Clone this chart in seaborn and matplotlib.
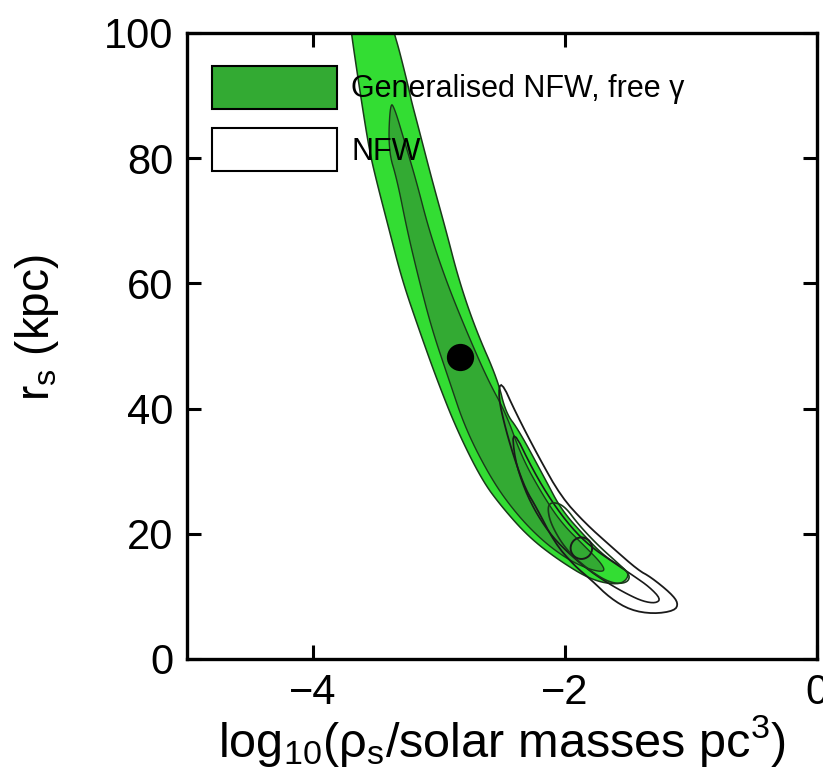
import numpy as np
import pandas as pd
import matplotlib
matplotlib.use("Agg")
import matplotlib.pyplot as plt
from matplotlib.patches import Patch
import seaborn as sns

# ---- data (log10 rho_s, r_s) ----
gnfw95_x = [-3.70, -3.696, -3.617, -3.553, -3.498, -3.395, -3.292, -3.158, -3.016, -2.858,
            -2.660, -2.502, -2.289, -2.051, -1.791, -1.577, -1.498,
            -1.506, -1.680, -1.838, -2.028, -2.154, -2.368, -2.470, -2.534, -2.708, -2.842,
            -2.945, -3.055, -3.158, -3.221, -3.237, -3.316, -3.356, -3.37]
gnfw95_y = [101.5, 100.0, 89.3, 81.3, 76.5, 68.5, 60.5, 52.6, 44.6, 36.6,
            28.6, 24.3, 19.5, 15.8, 12.6, 11.8, 12.9,
            14.2, 16.3, 19.5, 23.8, 28.6, 36.6, 39.3, 44.6, 52.6, 60.5,
            68.5, 76.5, 84.5, 89.3, 90.9, 97.3, 100.0, 101.5]

gnfw68_x = [-3.387, -3.403, -3.332, -3.253, -3.158, -3.055, -2.921, -2.787, -2.581, -2.391, -2.186,
            -1.972, -1.791, -1.680, -1.711, -1.838, -2.028, -2.186, -2.344, -2.470, -2.613,
            -2.787, -2.945, -3.079, -3.182, -3.277, -3.348]
gnfw68_y = [89.1, 81.3, 76.5, 68.5, 60.5, 52.6, 44.6, 36.6, 28.6, 23.3, 19.0,
            15.8, 14.2, 13.9, 15.3, 17.9, 21.7, 26.5, 32.3, 39.3, 44.6,
            52.6, 60.5, 68.5, 76.5, 82.9, 87.7]

nfw95_x = [-2.51, -2.39, -2.21, -2.03, -1.84, -1.63, -1.42, -1.32, -1.16, -1.10, -1.13, -1.30,
           -1.48, -1.64, -1.79, -1.93, -2.08, -2.23, -2.31, -2.39, -2.47, -2.53]
nfw95_y = [44.6, 39.3, 32.3, 25.9, 21.7, 17.9, 14.2, 13.1, 10.5, 8.9, 7.7, 7.2,
           7.8, 9.7, 12.6, 15.0, 18.5, 24.3, 27.0, 31.3, 36.6, 41.9]

nfw68_x = [-2.42, -2.25, -2.10, -1.95, -1.80, -1.62, -1.45, -1.33, -1.24, -1.28, -1.38, -1.50,
           -1.65, -1.80, -1.95, -2.10, -2.22, -2.32, -2.40]
nfw68_y = [37.0, 30.0, 25.0, 21.0, 18.0, 15.5, 13.2, 11.5, 9.6, 8.9, 9.2, 10.3,
           12.0, 14.0, 16.5, 19.5, 23.0, 27.0, 32.0]

core_x = [-2.11, -2.01, -1.89, -1.74, -1.58, -1.48, -1.51, -1.64, -1.81, -1.99, -2.11, -2.14]
core_y = [25.1, 24.6, 21.4, 18.2, 15.3, 13.4, 12.1, 12.1, 14.2, 17.4, 21.4, 24.1]

best_gnfw = {"x": [-2.83], "y": [48.2]}
best_nfw = {"x": [-1.87], "y": [17.7]}

legend_labels = ["Generalised NFW, free \u03b3", "NFW"]
xticks = [-4, -2, 0]
xticklabels = ["\u22124", "\u22122", "0"]
yticks = [0, 20, 40, 60, 80, 100]

LIGHT = "#33dd33"
DARK = "#33aa33"


def smooth_closed(xs, ys, n_iter=3):
    """Chaikin corner cutting to draw the outline as a smooth curve."""
    p = np.column_stack([xs, ys]).astype(float)
    for _ in range(n_iter):
        q = np.roll(p, -1, axis=0)
        a = 0.75 * p + 0.25 * q
        b = 0.25 * p + 0.75 * q
        p = np.empty((2 * len(a), 2))
        p[0::2] = a
        p[1::2] = b
    return p[:, 0], p[:, 1]


sns.set_theme(style="ticks")
plt.rcParams["font.family"] = ["Liberation Sans", "DejaVu Sans"]
plt.rcParams["mathtext.fontset"] = "custom"
plt.rcParams["mathtext.rm"] = "Liberation Sans"
plt.rcParams["mathtext.it"] = "Liberation Sans:italic"
plt.rcParams["text.color"] = "black"
plt.rcParams["axes.labelcolor"] = "black"

fig = plt.figure(figsize=(8.23, 7.83), dpi=100)
ax = fig.add_axes([187 / 823, 1 - 659 / 783, 630 / 823, 626 / 783])

ax.fill(*smooth_closed(gnfw95_x, gnfw95_y), facecolor=LIGHT, edgecolor="#1a3a1a", lw=1.1, zorder=1)
ax.fill(*smooth_closed(gnfw68_x, gnfw68_y), facecolor=DARK, edgecolor="#1a3a1a", lw=1.0, zorder=2)
ax.fill(*smooth_closed(nfw95_x, nfw95_y, 2), facecolor="none", edgecolor="#1a1a1a", lw=1.3, zorder=3)
ax.fill(*smooth_closed(nfw68_x, nfw68_y, 2), facecolor="none", edgecolor="#1a1a1a", lw=1.2, zorder=3)
ax.fill(*smooth_closed(core_x, core_y), facecolor="none", edgecolor="#1a3a1a", lw=1.2, zorder=3)

sns.scatterplot(data=pd.DataFrame(best_gnfw), x="x", y="y", ax=ax, s=330,
                color="black", edgecolor="black", zorder=5, legend=False)
sns.scatterplot(data=pd.DataFrame(best_nfw), x="x", y="y", ax=ax, s=240,
                facecolor="none", edgecolor="#1a1a1a", linewidth=1.4, zorder=5, legend=False)

ax.set_xlim(-5, 0)
ax.set_ylim(0, 100)
ax.set_xticks(xticks)
ax.set_xticklabels(xticklabels)
ax.set_yticks(yticks)
ax.tick_params(direction="in", length=10, width=2.2, top=True, right=True,
               labelsize=30, pad=10, colors="black")
for sp in ax.spines.values():
    sp.set_linewidth(2.4)
    sp.set_color("black")
    sp.set_visible(True)

ax.set_xlabel("log$_{\\mathrm{10}}$(\u03c1$_{\\mathrm{s}}$/solar masses pc$^{\\mathrm{3}}$)",
              fontsize=35, labelpad=0)
ax.set_ylabel(r"r$_{\mathrm{s}}$ (kpc)", fontsize=33)
ax.yaxis.set_label_coords(-0.2, 0.53)

handles = [Patch(facecolor=DARK, edgecolor="black", lw=1.5),
           Patch(facecolor="white", edgecolor="black", lw=1.5)]
ax.legend(handles, legend_labels, loc="upper left", bbox_to_anchor=(0.04, 0.948),
          frameon=False, fontsize=22, handlelength=4.1, handleheight=1.79,
          labelspacing=0.65, handletextpad=0.45, borderaxespad=0, borderpad=0)

fig.savefig("out.png", dpi=100)
